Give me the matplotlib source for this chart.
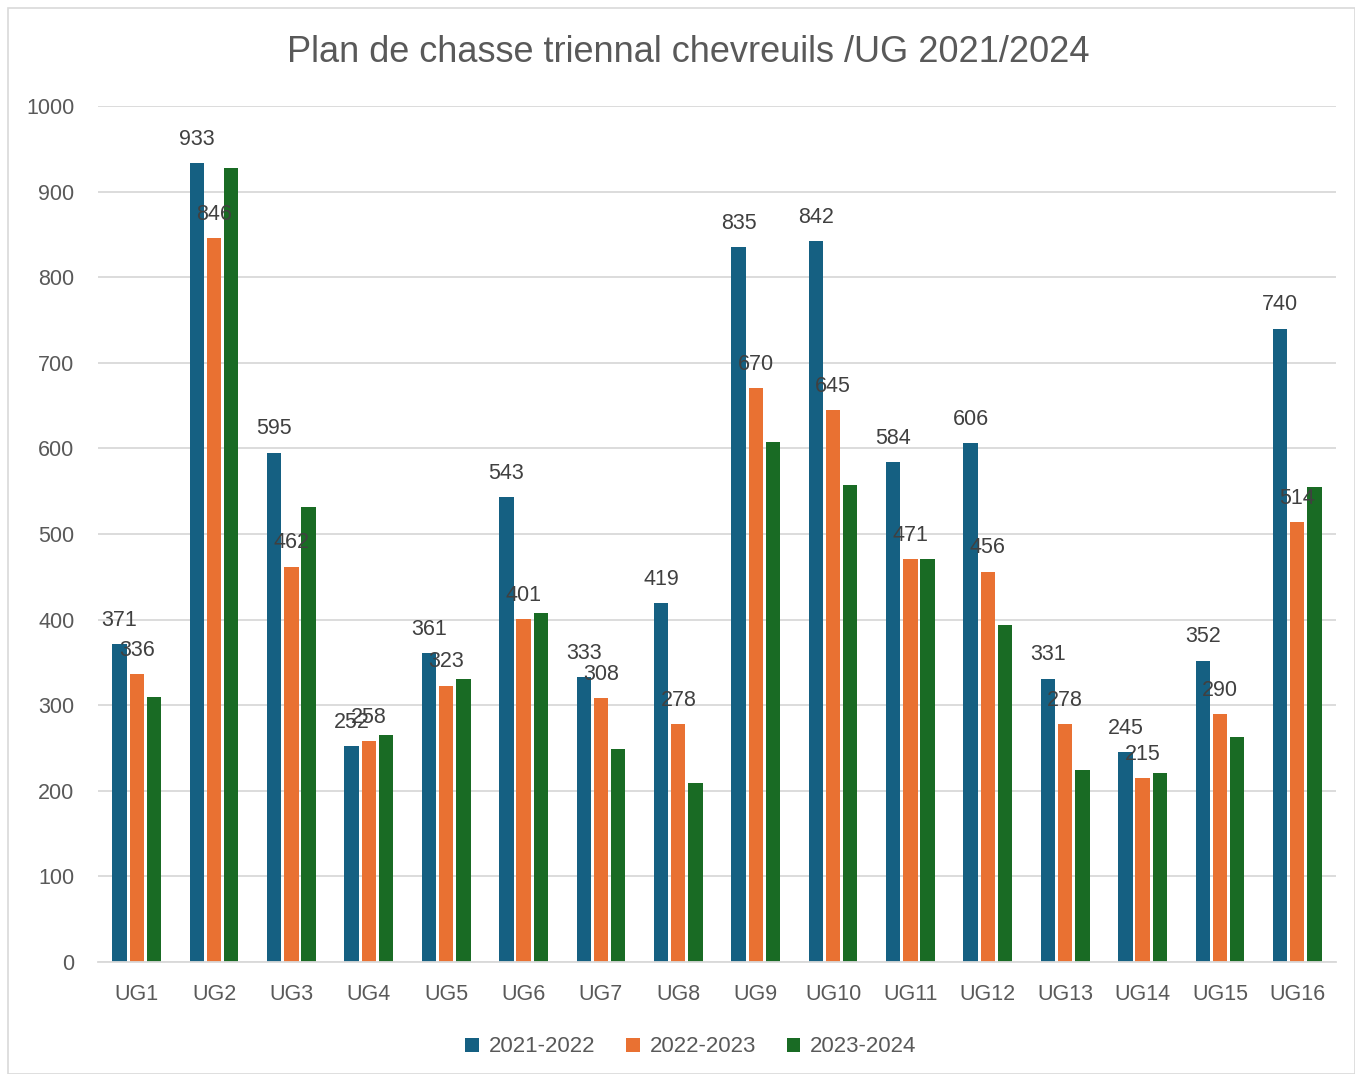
import matplotlib
matplotlib.use("Agg")
import matplotlib.pyplot as plt
import numpy as np
from matplotlib.patches import Rectangle

categories = ["UG1", "UG2", "UG3", "UG4", "UG5", "UG6", "UG7", "UG8",
              "UG9", "UG10", "UG11", "UG12", "UG13", "UG14", "UG15", "UG16"]
s2021 = [371, 933, 595, 252, 361, 543, 333, 419, 835, 842, 584, 606, 331, 245, 352, 740]
s2022 = [336, 846, 462, 258, 323, 401, 308, 278, 670, 645, 471, 456, 278, 215, 290, 514]
s2023 = [310, 928, 531, 265, 331, 408, 249, 209, 608, 557, 471, 394, 224, 221, 263, 555]
series_names = ["2021-2022", "2022-2023", "2023-2024"]
colors = ["#156082", "#E97132", "#196B24"]
title = "Plan de chasse triennal chevreuils /UG 2021/2024"
yticks = [0, 100, 200, 300, 400, 500, 600, 700, 800, 900, 1000]

plt.rcParams['font.family'] = ['Liberation Sans', 'DejaVu Sans']

W, H = 1355, 1074
fig = plt.figure(figsize=(W / 100, H / 100), dpi=100)
fig.patches.append(Rectangle((8 / W, 0), 1 - 8 / W, 1 - 8 / H, transform=fig.transFigure,
                             fill=False, edgecolor="#D9D9D9", linewidth=1.2))
ax = fig.add_axes([98 / W, 1 - 962 / H, (1336 - 98) / W, (962 - 106) / H])

x = np.arange(len(categories))
width = 0.185
offset = 0.222
all_series = [s2021, s2022, s2023]
bars = []
for i, (vals, c, n) in enumerate(zip(all_series, colors, series_names)):
    b = ax.bar(x + (i - 1) * offset, vals, width, color=c, label=n, zorder=2)
    bars.append(b)

for i in range(2):
    for xi, v in zip(x + (i - 1) * offset, all_series[i]):
        ax.annotate(str(v), (xi, v), xytext=(0, 9.5), textcoords="offset points",
                    ha="center", va="bottom", fontsize=15.5, color="#404040", zorder=4)

ax.set_xlim(-0.5, len(categories) - 0.5)
ax.set_ylim(0, 1000)
ax.set_yticks(yticks)
ax.set_yticklabels([str(t) for t in yticks], fontsize=15.5, color="#595959")
ax.set_xticks(x)
ax.set_xticklabels(categories, fontsize=15.5, color="#595959")
ax.tick_params(axis="both", length=0)
ax.tick_params(axis="y", pad=17)
ax.tick_params(axis="x", pad=16)
ax.grid(axis="y", color="#D9D9D9", linewidth=1.3, zorder=0)
ax.set_axisbelow(True)
for s in ["top", "right", "left"]:
    ax.spines[s].set_visible(False)
ax.spines["bottom"].set_color("#D9D9D9")
ax.spines["bottom"].set_linewidth(1.3)

fig.text(688 / W, 1 - 52 / H, title, ha="center", va="center", fontsize=26, color="#595959")

leg = fig.legend(handles=bars, labels=series_names, loc="center", ncol=3,
                 bbox_to_anchor=(691 / W, 1 - 1047 / H), frameon=False, fontsize=16,
                 handlelength=0.6, handleheight=0.6, handletextpad=0.45, columnspacing=1.4)
for t in leg.get_texts():
    t.set_color("#595959")

fig.savefig("out.png", dpi=100, facecolor="white")
